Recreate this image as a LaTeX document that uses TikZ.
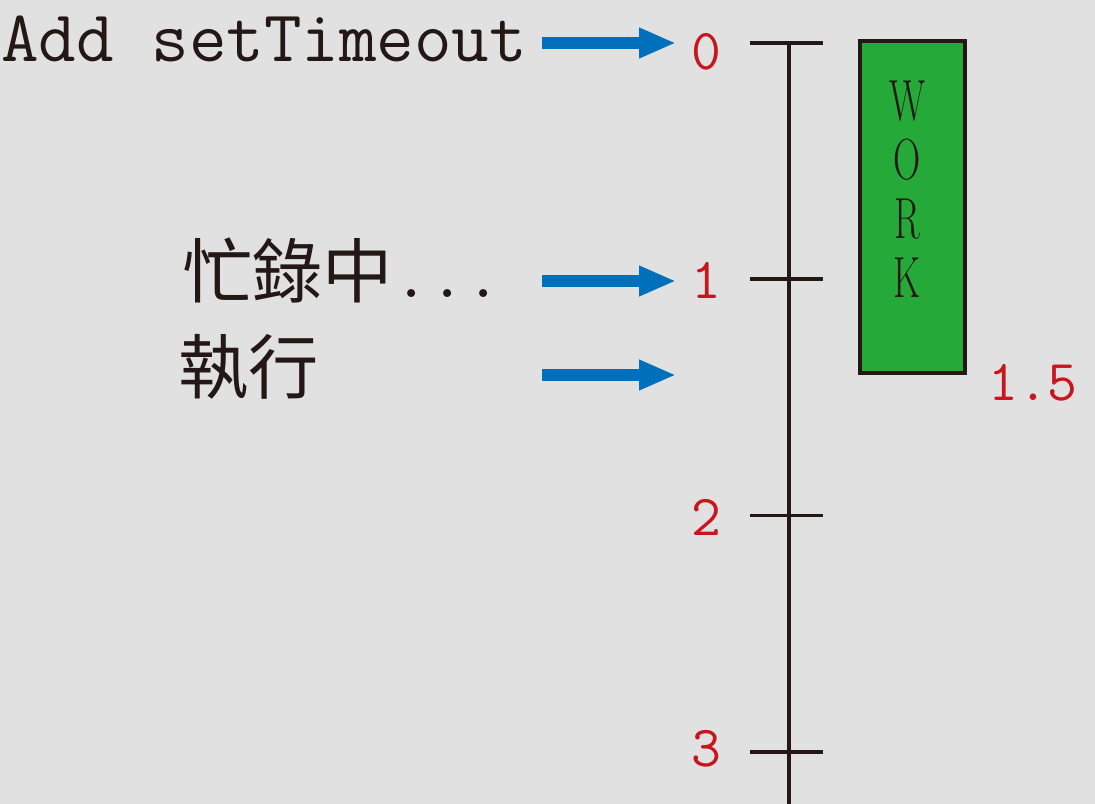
\documentclass[tikz,border=0pt]{standalone}
\usepackage{fontspec}
\newfontfamily\cjk{Noto Sans CJK TC}
\usetikzlibrary{arrows.meta}
\definecolor{bg}{HTML}{E1E1E1}
\definecolor{ink}{HTML}{231815}
\definecolor{numred}{HTML}{C8161E}
\definecolor{arrowblue}{HTML}{0070BB}
\definecolor{workgreen}{HTML}{25AA3A}

\begin{document}
\begin{tikzpicture}[x=0.02cm, y=-0.02cm,
	flow/.style={draw=arrowblue, line width=6.8pt, -{Triangle[length=21pt,width=16pt]}},
	tick/.style={draw=ink, line width=2.1pt},
	num/.style={text=numred, inner sep=0pt, font=\ttfamily\fontsize{33}{36}\selectfont},
	txt/.style={text=ink, anchor=base west, inner sep=0pt, font=\fontsize{40}{48}\selectfont}]
	\fill[bg] (0,0) rectangle (1095,804);
	\useasboundingbox (0,0) rectangle (1095,804);

	\node[txt, font=\ttfamily\fontsize{41.5}{48}\selectfont] (add) at (1,62) {Add setTimeout};
	\node[txt] (busy) at (182,297) {{\cjk 忙錄中}{\ttfamily ...}};
	\node[txt] (run) at (178,393) {\cjk 執行};

	\foreach \n/\y in {0/43,1/281,2/375} {
		\coordinate (s\n) at (542,\y);
		\coordinate (e\n) at (676,\y);
		\draw[flow] (s\n) -- (e\n);
	}

	\draw[tick] (789,43) -- (789,804);
	\foreach \t/\ly in {0/52,1/280,2/517,3/749} {
		\pgfmathsetmacro{\ty}{43+236.3*\t}
		\draw[tick] (750,\ty) -- (823,\ty);
		\node[num] (n\t) at (706,\ly) {\t};
	}

	\draw[fill=workgreen, draw=ink, line width=2pt] (860,41) rectangle (965,373);
	\node[text=ink, align=center, xscale=0.65, font=\fontsize{33}{33.5}\selectfont] (work) at (907,189) {W\\O\\R\\K};
	\node[num] (end) at (1033,383) {1.5};
\end{tikzpicture}
\end{document}
